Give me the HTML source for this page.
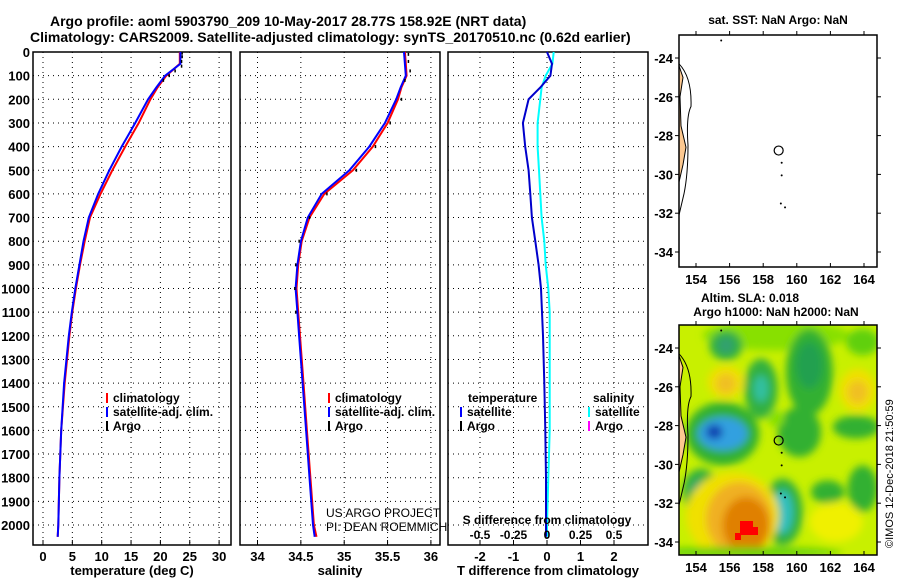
<!DOCTYPE html>
<html><head><meta charset="utf-8"><style>
body{margin:0;background:#fff;}
svg{display:block;font-family:"Liberation Sans",sans-serif;font-weight:bold;}
</style></head><body>
<svg id="c" width="900" height="580" viewBox="0 0 900 580">
<defs><filter id="blur" x="-20%" y="-20%" width="140%" height="140%"><feGaussianBlur stdDeviation="4"/></filter>
<clipPath id="mclip"><rect x="679" y="325" width="198" height="230"/></clipPath></defs>
<text x="50" y="26" font-size="14">Argo profile: aoml 5903790_209 10-May-2017 28.77S 158.92E (NRT data)</text>
<text x="30" y="42" font-size="14">Climatology: CARS2009. Satellite-adjusted climatology: synTS_20170510.nc (0.62d earlier)</text>
<g id="g"></g>
</svg>
<script>
const depths=[0,50,100,150,200,300,400,500,600,700,800,900,1000,1100,1200,1400,1600,1800,2000,2050];
const tempClim=[23.3,23.3,21.0,19.5,18.3,16.3,14.0,11.8,9.8,8.0,7.1,6.3,5.6,5.0,4.5,3.7,3.1,2.8,2.6,2.5];
const tempSat=[23.4,23.4,20.8,19.3,17.9,15.7,13.4,11.3,9.4,7.8,6.9,6.2,5.5,4.9,4.4,3.6,3.1,2.8,2.6,2.5];
const argoTempDepths=[5,20,40,60,80,100,120];
const argoTemp=[23.7,23.7,23.6,23.6,22.5,21.5,20.5];
const salClim=[35.70,35.71,35.72,35.66,35.62,35.50,35.33,35.10,34.77,34.60,34.51,34.47,34.45,34.47,34.49,34.53,34.57,34.61,34.65,34.68];
const salSat=[35.69,35.70,35.71,35.65,35.60,35.47,35.29,35.06,34.74,34.58,34.50,34.46,34.44,34.46,34.48,34.52,34.56,34.60,34.64,34.66];
const argoSalDepths=[10,40,80,120,200,300,400,500,600,700,800,900,1000,1100];
const argoSal=[35.74,35.74,35.76,35.70,35.66,35.53,35.36,35.14,34.80,34.60,34.48,34.44,34.43,34.44];
const tDiffSat=[0.0,0.15,0.1,-0.2,-0.55,-0.72,-0.65,-0.55,-0.5,-0.45,-0.35,-0.25,-0.18,-0.15,-0.12,-0.08,-0.05,-0.03,-0.03,-0.03];
const sDiffSat=[0.05,0.04,-0.01,-0.04,-0.05,-0.07,-0.07,-0.06,-0.05,-0.04,-0.02,-0.01,0.01,0.02,0.02,0.02,0.02,0.01,0.0,0.0];
const yTicks=[0,100,200,300,400,500,600,700,800,900,1000,1100,1200,1300,1400,1500,1600,1700,1800,1900,2000];
const tTicks=[0,5,10,15,20,25,30];
const sTicks=[34,34.5,35,35.5,36];
const dTicks=[-2,-1,0,1,2];
const dsTicks=[-0.5,-0.25,0,0.25,0.5];
const lonTicks=[154,156,158,160,162,164];
const latTicks=[-24,-26,-28,-30,-32,-34];
const NS="http://www.w3.org/2000/svg";
const G=document.getElementById('g');
function mk(t,a,p){const e=document.createElementNS(NS,t);for(const k in a)e.setAttribute(k,a[k]);(p||G).appendChild(e);return e;}
function txt(x,y,s,sz,anchor,p){const e=mk('text',{x:x,y:y,'font-size':sz,'text-anchor':anchor||'start'},p);e.textContent=s;return e;}
const yD=d=>52+d*0.2365;
const panels=[
 {x0:33,x1:231,f:v=>43+v*5.87,ticks:tTicks,label:'temperature (deg C)',name:'temperature'},
 {x0:240,x1:440,f:v=>257.5+(v-34)*86.7,ticks:sTicks,label:'salinity',name:'salinity'},
 {x0:448,x1:648,f:v=>547+v*33.5,ticks:dTicks,label:'T difference from climatology',name:'difference'}];
const fS=v=>547+v*134;
panels.forEach((p,i)=>{
 const grp=mk('g',{});
 
 
 p.ticks.forEach(t=>{const x=p.f(t);
  const l=mk('line',{x1:x,x2:x,y1:52,y2:545,stroke:'#000','stroke-width':1,'stroke-dasharray':'1 4'},grp);
  
  mk('line',{x1:x,x2:x,y1:545,y2:540,stroke:'#000'},grp);
  const tl=txt(x,561,String(t),13,'middle',grp);
  });
 yTicks.forEach(d=>{const y=yD(d);
  const l=mk('line',{x1:p.x0,x2:p.x1,y1:y,y2:y,stroke:'#000','stroke-width':1,'stroke-dasharray':'1 4'},grp);
  
  if(i==0){const tl=txt(30,y+5,String(d),13,'end',grp);
   }});
 const r=mk('rect',{x:p.x0,y:52,width:p.x1-p.x0,height:493,fill:'none',stroke:'#000','stroke-width':1.5},grp);
 
 const xl=txt((p.x0+p.x1)/2,575,p.label,13,'middle',grp);
 
});
function line(vals,f,col,name){const pts=vals.map((v,i)=>f(v).toFixed(1)+','+yD(depths[i]).toFixed(1)).join(' ');
 const e=mk('polyline',{points:pts,fill:'none',stroke:col,'stroke-width':2});
 }
function dots(ds,vals,f,name){vals.forEach((v,i)=>{const e=mk('rect',{x:f(v)-0.7,y:yD(ds[i])-1.5,width:1.5,height:3,fill:'#000'});
 });}
line(tempClim,panels[0].f,'#f00','temp-climatology-line');
line(tempSat,panels[0].f,'#00f','temp-satellite-line');
dots(argoTempDepths,argoTemp,panels[0].f,'argo-temp-point');
line(salClim,panels[1].f,'#f00','sal-climatology-line');
line(salSat,panels[1].f,'#00f','sal-satellite-line');
dots(argoSalDepths,argoSal,panels[1].f,'argo-sal-point');
line(sDiffSat,fS,'#0ff','sal-diff-satellite-line');
line(tDiffSat,panels[2].f,'#00c','temp-diff-satellite-line');
function leg(x,y,col,s,name){const m=mk('rect',{x:x,y:y-9,width:2,height:10,fill:col});
 
 const t=txt(x+7,y,s,12);}
leg(106,402,'#f00','climatology','legend-temp-climatology');
leg(106,416,'#00f','satellite-adj. clim.','legend-temp-satellite');
leg(106,430,'#000','Argo','legend-temp-argo');
leg(328,402,'#f00','climatology','legend-sal-climatology');
leg(328,416,'#00f','satellite-adj. clim.','legend-sal-satellite');
leg(328,430,'#000','Argo','legend-sal-argo');
txt(468,402,'temperature',12);
leg(460,416,'#00f','satellite','legend-tdiff-satellite');
leg(460,430,'#000','Argo','legend-tdiff-argo');
txt(593,402,'salinity',12);
leg(588,416,'#0ff','satellite','legend-sdiff-satellite');
leg(588,430,'#f0f','Argo','legend-sdiff-argo');
const s1=txt(326,517,'US ARGO PROJECT',12);s1.setAttribute('font-weight','normal');
const s2=txt(326,531,'PI: DEAN ROEMMICH',12);s2.setAttribute('font-weight','normal');
txt(547,524,'S difference from climatology',12,'middle');
dsTicks.forEach(t=>{const e=txt(fS(t),539,String(t),12,'middle');});
// maps
const X=lon=>696+(lon-154)*16.8;
function map(y0,y1,lat0,title,heat){
 const Y=lat=>lat0+(-lat-24)*19.4;
 const grp=mk('g',{});
 
 if(heat){
  mk('rect',{x:679,y:y0,width:198,height:y1-y0,fill:'#c8f000'},grp);
  const hg=mk('g',{filter:'url(#blur)','clip-path':'url(#mclip)'},grp);
  // blobs in local zoom coords: cx,cy,rx,ry (pixel units *3 relative to 676,322)
  const blobs=[
   [300,40,220,45,'#88e000'],[150,70,50,45,'#30b040'],[150,70,25,25,'#30a070'],
   [400,150,70,130,'#30b030'],[400,130,40,70,'#20a050'],[560,60,50,40,'#60d010'],
   [150,180,55,50,'#f0e000'],[150,185,30,30,'#f0c020'],[545,205,55,65,'#f0e000'],[545,210,30,35,'#f0c020'],
   [255,200,50,90,'#30b040'],[255,200,22,40,'#30c0a0'],
   [140,335,110,95,'#30b030'],[140,335,75,50,'#30a0e0'],[115,330,25,22,'#1040b0'],
   [370,330,65,75,'#30b030'],[540,315,70,35,'#30b030'],[300,290,25,25,'#88e000'],
   [75,510,55,70,'#30b040'],[70,510,25,35,'#30a080'],
   [320,570,60,100,'#30b040'],[320,570,30,65,'#30c0c0'],
   [455,510,50,35,'#30b030'],[560,500,45,70,'#30b030'],
   [170,580,140,130,'#f0e000'],[190,590,100,110,'#f0b020'],[210,610,70,85,'#e08000'],
   [480,600,80,60,'#f0f000'],[200,690,300,15,'#60d010']];
  blobs.forEach(b=>{const e=mk('ellipse',{cx:676+b[0]/3,cy:322+b[1]/3,rx:b[2]/3,ry:b[3]/3,fill:b[4]},hg);
   });
  const red=mk('path',{d:'M740 521 L753 521 L753 527 L758 527 L758 535 L741 535 L741 540 L735 540 L735 533 L740 533 Z',fill:'#f00'},grp);
  
 }
 const land=mk('path',{d:`M679 ${Y(-24.4)} L683 ${Y(-25)} L680 ${Y(-26)} L681 ${Y(-27.5)} L686 ${Y(-28.6)} L683 ${Y(-29.5)} L679 ${Y(-30.4)} Z`,fill:'#fcc890',stroke:'#000','stroke-width':1},grp);
 
 mk('path',{d:`M679 ${Y(-24.3)} Q692 ${Y(-25)} 691 ${Y(-26.5)} Q686 ${Y(-27)} 688 ${Y(-28.5)} Q688 ${Y(-30)} 684 ${Y(-31)} L679 ${Y(-32.1)}`,fill:'none',stroke:'#000'},grp);
 const ci=mk('circle',{cx:X(158.92),cy:Y(-28.77),r:4.5,fill:'none',stroke:'#000','stroke-width':1.2},grp);
 
 [[155.5,-23.1],[159.1,-29.4],[159.1,-30.05],[159.05,-31.5],[159.3,-31.7]].forEach(p=>mk('circle',{cx:X(p[0]),cy:Y(p[1]),r:1,fill:'#000'},grp));
 mk('rect',{x:679,y:y0,width:198,height:y1-y0,fill:'none',stroke:'#000','stroke-width':1.5},grp);
 lonTicks.forEach(l=>{mk('line',{x1:X(l),x2:X(l),y1:y1,y2:y1-4,stroke:'#000'},grp);mk('line',{x1:X(l),x2:X(l),y1:y0,y2:y0-4,stroke:'#000'},grp);
  const t=txt(X(l),y1+17,String(l),13,'middle',grp);});
 latTicks.forEach(l=>{mk('line',{x1:679,x2:675,y1:Y(l),y2:Y(l),stroke:'#000'},grp);mk('line',{x1:877,x2:881,y1:Y(l),y2:Y(l),stroke:'#000'},grp);
  const t=txt(673,Y(l)+5,String(l),13,'end',grp);});
 title.forEach(s=>{const t=txt(s[1],s[2],s[0],12,'middle',grp);
  });
}
map(35,267,58,[['sat. SST: NaN Argo: NaN',778,24]],false);
map(325,555,348,[['Altim. SLA: 0.018',750,302],['Argo h1000: NaN h2000: NaN',776,316]],true);
const ts=mk('text',{x:0,y:0,'font-size':11,'font-weight':'normal',transform:'translate(893,548) rotate(-90)'});
ts.textContent='©IMOS 12-Dec-2018 21:50:59';

</script>
</body></html>
